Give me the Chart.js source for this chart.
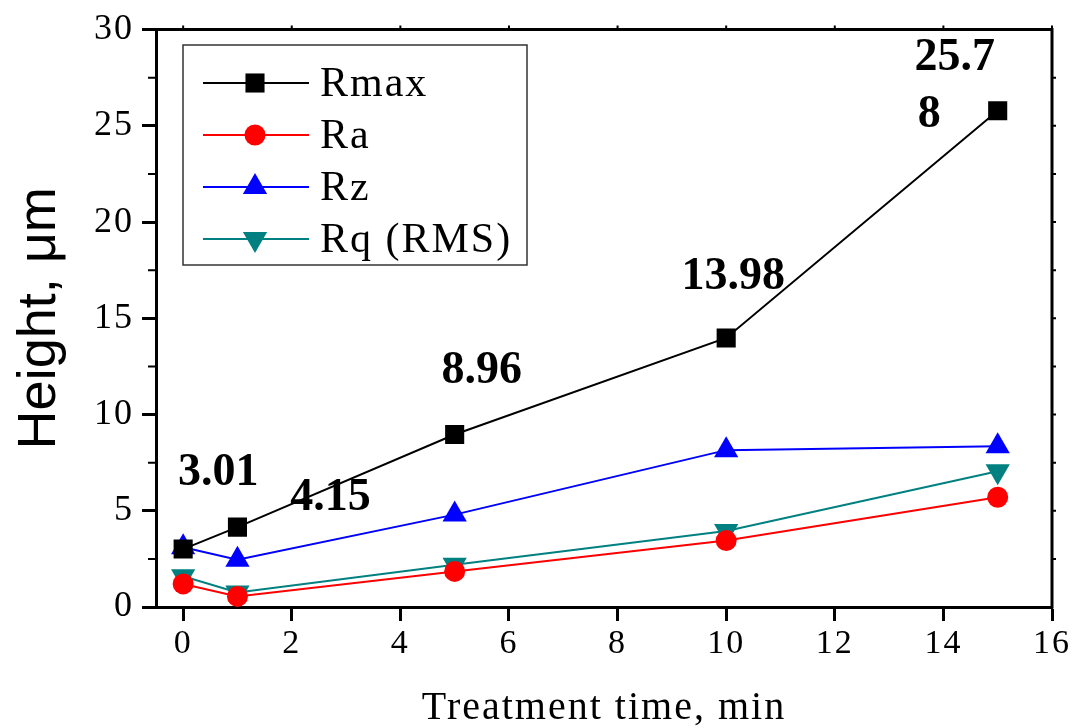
<!DOCTYPE html>
<html>
<head>
<meta charset="utf-8">
<script src="https://cdn.jsdelivr.net/npm/chart.js@4"></script>
<style>
  body { margin: 0; background: #fff; }
</style>
</head>
<body>
<canvas id="roughness" width="1091" height="728"></canvas>
<script>
// roughness parameters vs treatment time
const times = [0, 1, 5, 10, 15];
const rmax = [3.01, 4.15, 8.96, 13.98, 25.78];
const ra = [1.2, 0.55, 1.85, 3.45, 5.7];
const rz = [3.1, 2.45, 4.8, 8.15, 8.35];
const rq = [1.6, 0.75, 2.2, 3.95, 7.05];
const seriesNames = ['Rmax', 'Ra', 'Rz', 'Rq (RMS)'];
const xTicks = [0, 2, 4, 6, 8, 10, 12, 14, 16];
const yTicks = [0, 5, 10, 15, 20, 25, 30];

const serif = "'Liberation Serif', 'Times New Roman', serif";
const sans = "'Liberation Sans', Arial, sans-serif";

// where each Rmax value label sits relative to its point, and where it wraps
const labelOffsets = [[35, -76], [93, -29], [27, -63], [7, -61], [-43, 4]];
const labelBreaks = [0, 0, 0, 0, 4];

function pts(values) {
  return times.map((t, i) => ({ x: t, y: values[i] }));
}

function makeSet(label, values, color, style, radius, rotation) {
  return {
    label: label,
    data: pts(values),
    showLine: true,
    borderColor: color,
    backgroundColor: color,
    borderWidth: 2,
    pointStyle: style,
    pointRadius: radius,
    pointRotation: rotation,
    pointBorderWidth: 0,
    pointBackgroundColor: color
  };
}

const datasets = [
  makeSet(seriesNames[0], rmax, '#000000', 'rect', 13.5, 0),
  makeSet(seriesNames[1], ra, '#ff0000', 'circle', 10.5, 0),
  makeSet(seriesNames[2], rz, '#0000ff', 'triangle', 14, 0),
  makeSet(seriesNames[3], rq, '#008080', 'triangle', 14, 180)
];

// serif texts are set a little loose
const spacing = {
  id: 'spacing',
  beforeLayout(chart) { chart.ctx.letterSpacing = '2px'; },
  beforeDraw(chart) { chart.ctx.letterSpacing = '2px'; }
};

// mirrored top/right axes, minor ticks and the rotated y title
const framePlugin = {
  id: 'frame',
  afterDraw(chart) {
    const { ctx, chartArea: a, scales } = chart;
    ctx.save();
    ctx.strokeStyle = '#000';
    ctx.lineWidth = 3;
    ctx.beginPath();
    ctx.moveTo(a.left - 1.5, a.top);
    ctx.lineTo(a.right, a.top);
    ctx.lineTo(a.right, a.bottom + 1.5);
    ctx.stroke();

    ctx.lineWidth = 2;
    ctx.beginPath();
    xTicks.forEach(v => {
      const x = scales.x.getPixelForValue(v);
      ctx.moveTo(x, a.top);
      ctx.lineTo(x, a.top - 4);
    });
    for (let v = 2.5; v < 30; v += 2.5) {
      const y = scales.y.getPixelForValue(v);
      ctx.moveTo(a.right, y);
      ctx.lineTo(a.right + 4, y);
      if (v % 5 !== 0) {
        ctx.moveTo(a.left, y);
        ctx.lineTo(a.left - 8, y);
      }
    }
    ctx.stroke();

    ctx.letterSpacing = '0px';
    ctx.translate(40, (a.top + a.bottom) / 2);
    ctx.rotate(-Math.PI / 2);
    ctx.fillStyle = '#000';
    ctx.font = '54px ' + sans;
    ctx.textAlign = 'center';
    ctx.textBaseline = 'middle';
    ctx.fillText('Height, μm', 0, 0);
    ctx.restore();
  }
};

// bold value labels next to the Rmax points
const valueLabels = {
  id: 'valueLabels',
  afterDatasetsDraw(chart) {
    const { ctx } = chart;
    const meta = chart.getDatasetMeta(0);
    ctx.save();
    ctx.letterSpacing = '0px';
    ctx.fillStyle = '#000';
    ctx.font = 'bold 46px ' + serif;
    ctx.textAlign = 'center';
    ctx.textBaseline = 'middle';
    meta.data.forEach((p, i) => {
      const text = rmax[i].toFixed(2);
      const x = p.x + labelOffsets[i][0];
      const y = p.y + labelOffsets[i][1];
      const cut = labelBreaks[i];
      if (cut) {
        ctx.fillText(text.slice(0, cut), x, y - 57);
        ctx.textAlign = 'left';
        ctx.fillText(text.slice(cut), x - 37, y);
        ctx.textAlign = 'center';
      } else {
        ctx.fillText(text, x, y);
      }
    });
    ctx.restore();
  }
};

// boxed legend with line + marker samples
const boxLegend = {
  id: 'boxLegend',
  afterDraw(chart) {
    const { ctx } = chart;
    const left = 183, top = 45, w = 344, h = 220;
    ctx.save();
    ctx.strokeStyle = '#333';
    ctx.lineWidth = 1.5;
    ctx.strokeRect(left, top, w, h);
    ctx.font = '42px ' + serif;
    ctx.letterSpacing = '2px';
    ctx.textBaseline = 'middle';
    chart.data.datasets.forEach((ds, i) => {
      const y = top + 38 + i * 52;
      ctx.strokeStyle = ds.borderColor;
      ctx.lineWidth = 2;
      ctx.beginPath();
      ctx.moveTo(left + 20, y);
      ctx.lineTo(left + 126, y);
      ctx.stroke();
      ctx.fillStyle = ds.backgroundColor;
      Chart.helpers.drawPoint(ctx, {
        pointStyle: ds.pointStyle,
        radius: ds.pointRadius,
        rotation: ds.pointRotation,
        borderWidth: 0
      }, left + 72, y);
      ctx.fillStyle = '#000';
      ctx.fillText(ds.label, left + 137, y + 2);
    });
    ctx.restore();
  }
};

new Chart(document.getElementById('roughness'), {
  type: 'scatter',
  data: { datasets: datasets },
  options: {
    responsive: false,
    animation: false,
    layout: { padding: { top: 25, right: 39, left: 0, bottom: 0 } },
    plugins: {
      legend: { display: false },
      tooltip: { enabled: false }
    },
    scales: {
      x: {
        type: 'linear',
        min: -0.5,
        max: 16,
        afterBuildTicks: s => { s.ticks = xTicks.map(v => ({ value: v })); },
        afterFit: s => { s.height = 121; },
        border: { color: '#000', width: 3 },
        grid: { drawOnChartArea: false, tickLength: 14, tickWidth: 3, tickColor: '#000' },
        ticks: { color: '#000', font: { family: serif, size: 34 }, padding: 3, maxRotation: 0 },
        title: {
          display: true,
          text: 'Treatment time, min',
          color: '#000',
          font: { family: serif, size: 40 },
          padding: { top: 0, bottom: -4 }
        }
      },
      y: {
        min: 0,
        max: 30,
        afterBuildTicks: s => { s.ticks = yTicks.map(v => ({ value: v })); },
        afterFit: s => { s.width = 156; },
        border: { color: '#000', width: 3 },
        grid: { drawOnChartArea: false, tickLength: 14, tickWidth: 3, tickColor: '#000' },
        ticks: { color: '#000', font: { family: serif, size: 36 }, padding: 8 }
      }
    }
  },
  plugins: [spacing, framePlugin, valueLabels, boxLegend]
});
</script>
</body>
</html>
